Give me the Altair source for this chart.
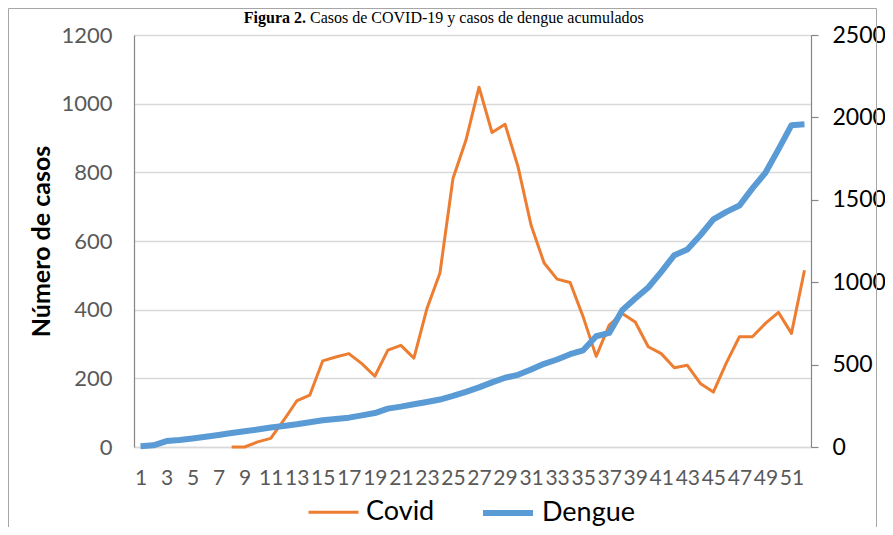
import altair as alt
import pandas as pd

# ---------------- data ----------------
weeks = list(range(1, 53))
covid_weeks = list(range(8, 53))
covid_cases = [0, 0, 15, 25, 78, 134, 151, 251, 262, 272,
               243, 206, 282, 296, 259, 403, 507, 782, 894, 1048,
               916, 940, 816, 646, 536, 489, 479, 379, 264, 355,
               389, 364, 292, 272, 231, 238, 185, 160, 245, 321,
               321, 360, 392, 331, 515]
dengue_cases = [4, 10, 36, 43, 52, 62, 73, 85, 95, 106,
                118, 128, 138, 150, 162, 170, 178, 192, 206, 233,
                245, 259, 273, 288, 310, 335, 362, 392, 420, 438,
                470, 505, 531, 563, 587, 672, 692, 830, 901, 968,
                1063, 1164, 1199, 1285, 1381, 1427, 1465, 1569, 1664, 1806,
                1953, 1958]
series = ["Covid", "Dengue"]
series_colors = ["#ED7D31", "#5B9BD5"]
series_widths = [3, 6]
left_ticks = [0, 200, 400, 600, 800, 1000, 1200]
right_ticks = [0, 500, 1000, 1500, 2000, 2500]
x_labels = list(range(1, 52, 2))
title_bold = "Figura 2."
title_rest = "Casos de COVID-19 y casos de dengue acumulados"
y_title = "Número de casos"

df_c = pd.DataFrame({"semana": covid_weeks, "casos": covid_cases, "serie": "Covid"})
df_d = pd.DataFrame({"semana": weeks, "casos": dengue_cases, "serie": "Dengue"})

FONT = "Lato"

legend = alt.Legend(
    title=None, orient="none", direction="horizontal",
    legendX=173, legendY=450,
    symbolType="stroke", symbolSize=2500,
    labelFont=FONT, labelFontSize=27, labelColor="#000000",
    labelOffset=6, columnPadding=36, labelLimit=300,
)

x_enc = alt.X(
    "semana:O",
    scale=alt.Scale(type="point", domain=weeks, padding=0.5),
    axis=alt.Axis(values=x_labels, title=None, labelAngle=0, labelFont=FONT,
                  labelFontSize=21, labelColor="#595959", labelPadding=20,
                  ticks=False, tickSize=0, domainColor="#d9d9d9", domainWidth=1.5,
                  labelOverlap=False, grid=False),
)
color_enc = alt.Color("serie:N", scale=alt.Scale(domain=series, range=series_colors), legend=legend)
width_enc = alt.StrokeWidth("serie:N", scale=alt.Scale(domain=series, range=series_widths), legend=legend)

covid_line = alt.Chart(df_c).mark_line(strokeJoin="round").encode(
    x=x_enc,
    y=alt.Y("casos:Q", scale=alt.Scale(domain=[0, 1200], nice=False, zero=True),
            axis=alt.Axis(values=left_ticks, format="d", title=y_title, titleFont=FONT, titleFontSize=25,
                          titleFontWeight="bold", titleColor="#000000", titlePadding=6,
                          labelFont=FONT, labelFontSize=22, labelColor="#595959",
                          labelPadding=22, ticks=False, tickSize=0,
                          domainColor="#868686", domainWidth=1.2,
                          grid=True, gridColor="#d9d9d9", gridWidth=1.5)),
    color=color_enc,
    strokeWidth=width_enc,
)

dengue_line = alt.Chart(df_d).mark_line(strokeJoin="round").encode(
    x=x_enc,
    y=alt.Y("casos:Q", scale=alt.Scale(domain=[0, 2500], nice=False, zero=True),
            axis=alt.Axis(values=right_ticks, format="d", orient="right", title=None,
                          labelFont=FONT, labelFontSize=23, labelColor="#000000",
                          labelPadding=14, ticks=True, tickSize=7, tickColor="#868686",
                          tickWidth=1.2, domainColor="#868686", domainWidth=1.2,
                          grid=False)),
    color=color_enc,
    strokeWidth=width_enc,
)

frame = alt.Chart(pd.DataFrame({"k": [0]})).mark_rect(
    fill="transparent", stroke="#a6a6a6", strokeWidth=1
).encode(x=alt.value(-125.5), x2=alt.value(742.5), y=alt.value(-26.5), y2=alt.value(600))

t_bold = alt.Chart(pd.DataFrame({"t": [title_bold]})).mark_text(
    font="Liberation Serif", fontSize=16, fontWeight="bold", align="right", baseline="middle", color="#000000"
).encode(text="t:N", x=alt.value(172), y=alt.value(-17))
t_rest = alt.Chart(pd.DataFrame({"t": [title_rest]})).mark_text(
    font="Liberation Serif", fontSize=16, align="left", baseline="middle", color="#000000"
).encode(text="t:N", x=alt.value(176), y=alt.value(-17))

chart = alt.layer(frame, t_bold, t_rest, covid_line, dengue_line).resolve_scale(
    y="independent"
).properties(
    width=677, height=412,
    autosize=alt.AutoSizeParams(type="none"),
    padding={"left": 126, "top": 27, "right": 74, "bottom": 80},
).configure_view(stroke=None).configure(background="white")

chart.save("out.html", embed_options={"renderer": "svg", "actions": False})
